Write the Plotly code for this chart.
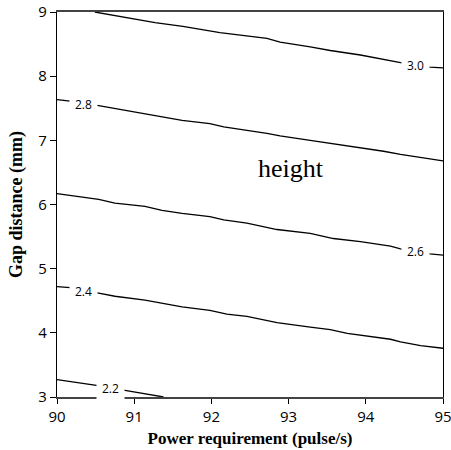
import plotly.graph_objects as go

# Contour levels and read-off line coordinates
levels = [2.2, 2.4, 2.6, 2.8, 3.0]

x_22 = [90.0, 90.41, 90.51, 90.90, 91.05, 91.36, 91.38]
y_22 = [3.27, 3.20, 3.18, 3.10, 3.07, 3.01, 3.0]

x_24 = [90.0, 90.17, 90.54, 90.75, 91.14, 91.36, 91.62, 91.98, 92.2, 92.46, 92.85, 93.28, 93.54, 93.76, 94.32, 94.45, 94.71, 95.0]
y_24 = [4.72, 4.705, 4.62, 4.57, 4.51, 4.46, 4.405, 4.35, 4.29, 4.255, 4.16, 4.09, 4.05, 3.99, 3.90, 3.86, 3.80, 3.76]

x_26 = [90.0, 90.54, 90.75, 91.14, 91.36, 91.62, 91.98, 92.16, 92.46, 92.85, 93.28, 93.58, 93.93, 94.32, 94.45, 94.83, 95.0]
y_26 = [6.17, 6.08, 6.02, 5.97, 5.91, 5.86, 5.81, 5.76, 5.71, 5.61, 5.55, 5.47, 5.42, 5.35, 5.31, 5.23, 5.21]

x_28 = [90.0, 90.17, 90.54, 91.05, 91.27, 91.62, 91.98, 92.16, 92.72, 92.89, 93.28, 93.63, 94.23, 94.45, 95.0]
y_28 = [7.636, 7.61, 7.54, 7.435, 7.38, 7.31, 7.26, 7.21, 7.11, 7.07, 7.00, 6.94, 6.83, 6.78, 6.68]

x_30 = [90.49, 91.05, 91.27, 91.63, 92.11, 92.72, 92.89, 93.28, 93.54, 93.93, 94.45, 94.83, 95.0]
y_30 = [9.0, 8.886, 8.835, 8.775, 8.68, 8.59, 8.53, 8.455, 8.40, 8.33, 8.21, 8.14, 8.13]

# label anchor positions (data coords) for each level
label_x = [90.69, 90.34, 94.64, 90.34, 94.64]
label_y = [3.125, 4.64, 5.27, 7.56, 8.17]
label_text = ["2.2", "2.4", "2.6", "2.8", "3.0"]

x_ticks = [90, 91, 92, 93, 94, 95]
y_ticks = [3, 4, 5, 6, 7, 8, 9]

lines_x = [x_22, x_24, x_26, x_28, x_30]
lines_y = [y_22, y_24, y_26, y_28, y_30]

fig = go.Figure()
for lv, xs, ys in zip(levels, lines_x, lines_y):
    fig.add_trace(go.Scatter(x=xs, y=ys, mode="lines", name=str(lv),
                             line=dict(color="black", width=1.3),
                             showlegend=False, hoverinfo="skip"))

for lx, ly, lt in zip(label_x, label_y, label_text):
    fig.add_annotation(x=lx, y=ly, text=lt, showarrow=False,
                       font=dict(family="Open Sans", size=12, color="black"),
                       bgcolor="white", borderpad=5)

fig.add_annotation(x=93.03, y=6.56, text="height", showarrow=False,
                   font=dict(family="Liberation Serif", size=26, color="black"))

fig.update_layout(
    width=451, height=450,
    margin=dict(l=57, r=8, t=12, b=53, autoexpand=False),
    plot_bgcolor="white", paper_bgcolor="white",
    showlegend=False,
)
fig.update_xaxes(range=[90, 95], tickvals=x_ticks, ticktext=[str(v) for v in x_ticks],
                 showgrid=False, zeroline=False, showline=True, mirror=True,
                 automargin=False, ticklabeloverflow="allow",
                 linecolor="#444", linewidth=1.5, ticks="outside", ticklen=5,
                 tickcolor="black",
                 tickfont=dict(family="Open Sans", size=15, color="black"),
                 title=dict(text="<b>Power requirement (pulse/s)</b>", standoff=7,
                            font=dict(family="Liberation Serif", size=17, color="black")))
fig.update_yaxes(range=[3, 9], tickvals=y_ticks, ticktext=[str(v) for v in y_ticks],
                 showgrid=False, zeroline=False, showline=True, mirror=True,
                 automargin=False, ticklabeloverflow="allow",
                 linecolor="black", linewidth=1.2, ticks="outside", ticklen=6,
                 tickcolor="black",
                 tickfont=dict(family="Open Sans", size=15, color="black"),
                 title=dict(text="<b>Gap distance (mm)</b>", standoff=11,
                            font=dict(family="Liberation Serif", size=18, color="black")))

fig.write_html("out.html", config={"displayModeBar": False},
               post_script="document.body.style.margin='0';")
